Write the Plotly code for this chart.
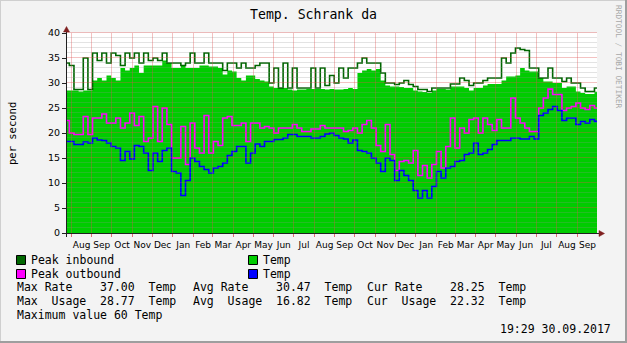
import math

import pandas as pd
import plotly.graph_objects as go

# ---- data: weekly samples, 25.07.2015 .. 30.09.2017 ----
START = "2015-07-25 12:00"
END = "2017-09-30 19:29"
N_WEEKS = 115

peak_in = [
    34.0, 33.5, 28.7, 28.7, 35.0, 28.7, 36.0, 34.5, 36.0, 34.0,
    36.0, 35.5, 33.5, 36.0, 35.0, 36.0, 34.0, 36.0, 34.5, 35.0,
    34.5, 36.0, 34.0, 34.0, 34.0, 33.5, 34.0, 36.0, 34.0, 34.0,
    36.0, 34.0, 34.0, 34.0, 32.5, 34.0, 34.0, 33.0, 34.0, 33.0,
    33.0, 33.5, 34.0, 34.0, 30.0, 33.0, 29.0, 34.0, 29.0, 33.0,
    29.0, 29.0, 29.0, 33.0, 29.0, 33.0, 29.5, 31.5, 30.0, 33.0,
    31.0, 33.0, 33.0, 34.0, 35.0, 34.0, 34.0, 34.0, 32.0, 30.0,
    30.0, 29.7, 30.0, 30.5, 29.7, 29.3, 28.7, 28.7, 28.3, 29.0,
    29.0, 29.0, 29.0, 29.8, 29.8, 31.0, 30.5, 29.5, 30.0, 30.0,
    30.5, 31.0, 31.0, 31.0, 35.0, 34.0, 36.0, 37.0, 36.7, 36.5,
    33.0, 33.0, 31.0, 31.0, 33.0, 31.0, 31.0, 30.3, 31.0, 30.0,
    30.0, 29.0, 28.3, 28.3, 29.0,
]

avg_in = [
    28.5, 28.5, 28.5, 28.3, 28.5, 28.5, 30.5, 31.0, 30.5, 31.5,
    31.0, 30.5, 33.0, 32.5, 33.0, 33.5, 32.0, 33.5, 33.5, 33.5,
    33.5, 34.5, 34.0, 33.0, 33.0, 33.5, 33.0, 33.0, 33.0, 33.5,
    33.5, 33.3, 33.3, 33.0, 31.7, 32.5, 32.3, 31.0, 30.5, 31.5,
    31.5, 30.8, 30.5, 30.3, 29.3, 29.0, 29.0, 29.0, 28.7, 28.5,
    28.7, 28.7, 28.8, 28.8, 28.8, 28.8, 28.7, 28.8, 28.7, 28.7,
    28.8, 29.0, 28.8, 32.0, 32.5, 32.8, 32.5, 32.8, 30.5, 29.5,
    29.3, 29.3, 29.2, 29.0, 29.0, 28.5, 28.3, 28.2, 28.0, 28.5,
    28.8, 28.8, 28.7, 29.3, 29.3, 29.3, 29.0, 28.5, 29.0, 29.0,
    29.5, 29.8, 29.8, 29.8, 30.5, 31.3, 31.3, 31.5, 33.0, 32.5,
    32.3, 32.3, 31.0, 30.3, 30.3, 30.0, 30.0, 29.0, 29.3, 29.3,
    28.3, 28.0, 27.8, 27.8, 28.25,
]

peak_out = [
    22.5, 20.0, 19.7, 19.7, 23.3, 19.7, 23.0, 23.0, 23.8, 22.0,
    22.0, 23.0, 21.0, 22.0, 24.0, 21.5, 23.3, 18.3, 19.0, 25.3,
    18.3, 25.0, 21.7, 15.0, 15.0, 21.3, 13.7, 22.0, 17.0, 16.0,
    23.5, 16.0, 18.3, 17.5, 23.0, 23.3, 21.5, 21.5, 22.0, 18.3,
    22.0, 22.0, 21.0, 21.3, 21.0, 20.0, 21.0, 21.0, 21.0, 21.7,
    21.0, 20.3, 20.3, 20.8, 20.8, 21.5, 21.0, 21.0, 21.0, 21.0,
    20.3, 20.5, 21.0, 20.0, 21.7, 22.5, 21.0, 17.5, 16.3, 21.7,
    15.7, 12.5, 14.3, 14.5, 14.0, 16.5, 11.5, 13.5, 11.0, 13.7,
    16.3, 13.0, 17.3, 23.0, 17.0, 21.0, 20.0, 22.7, 23.0, 20.0,
    23.0, 21.7, 20.5, 22.7, 21.0, 21.0, 27.0, 23.0, 22.0, 21.0,
    20.3, 20.3, 25.0, 27.0, 28.77, 27.7, 27.7, 24.5, 25.0, 25.3,
    26.0, 25.0, 24.7, 25.5, 25.0,
]

avg_out = [
    18.3, 18.3, 17.7, 17.7, 18.2, 18.0, 19.0, 18.6, 18.5, 18.0,
    17.3, 17.0, 14.5, 16.3, 14.8, 17.5, 17.3, 16.0, 12.5, 16.0,
    14.3, 16.5, 17.0, 12.3, 12.0, 7.5, 10.5, 15.0, 14.3, 13.3,
    12.7, 12.0, 13.0, 13.3, 14.0, 15.5, 16.3, 17.3, 17.3, 14.0,
    16.0, 17.8, 17.3, 18.3, 18.3, 18.7, 18.7, 19.0, 19.7, 19.7,
    19.3, 19.3, 19.3, 19.0, 19.0, 19.3, 19.8, 20.0, 19.5, 19.0,
    18.8, 18.0, 18.6, 16.5, 16.3, 16.0, 15.0, 14.0, 12.3, 15.0,
    14.5, 10.5, 12.5, 11.5, 10.5, 8.5, 7.0, 8.5, 7.0, 9.3,
    12.3, 11.0, 13.0, 13.3, 14.3, 14.5, 15.7, 16.0, 18.0, 15.7,
    16.0, 16.7, 17.7, 18.5, 18.5, 18.5, 19.0, 19.0, 18.8, 18.8,
    19.3, 18.8, 23.5, 24.0, 24.7, 25.3, 24.5, 22.5, 23.0, 23.0,
    21.7, 22.3, 22.0, 22.7, 22.32,
]

legend_rows = [
    ("Max Rate    37.00  Temp", "Avg Rate    30.47  Temp", "Cur Rate    28.25  Temp"),
    ("Max  Usage  28.77  Temp", "Avg  Usage  16.82  Temp", "Cur  Usage  22.32  Temp"),
]

# ---- colours / fonts ----
C_IN = "#00CC00"
C_OUT = "#0000FF"
C_PIN = "#006600"
C_POUT = "#FF00FF"
BACK = "#F3F3F3"
MONO = "DejaVu Sans Mono"
SANS = "DejaVu Sans"
GRID_MINOR = "rgba(143,143,143,0.25)"
GRID_MAJOR = "rgba(222,80,80,0.35)"

# ---- canvas geometry (pixels) ----
W, H = 627, 343
ML, MR, MT, MB = 67, 30, 33, 110
PW, PH = W - ML - MR, H - MT - MB
Y_MAX = 40


def fx(x):
    return (x - ML) / PW


def fy(y):
    return (H - MB - y) / PH


def half(p):
    # centre a 1px line on a pixel row/column
    return math.floor(p) + 0.5


t0, t1 = pd.Timestamp(START), pd.Timestamp(END)
span_s = (t1 - t0).total_seconds()
weeks = list(pd.date_range(START, periods=N_WEEKS, freq="7D")) + [t1]


def ext(v):
    return list(v) + [v[-1]]


fig = go.Figure()
fig.add_trace(go.Scatter(
    x=weeks, y=ext(avg_in), mode="lines", fill="tozeroy", fillcolor=C_IN,
    line=dict(color=C_IN, width=0, shape="hvh"), hoverinfo="skip"))
fig.add_trace(go.Scatter(
    x=weeks, y=ext(peak_in), mode="lines",
    line=dict(color=C_PIN, width=1.6, shape="hvh"), hoverinfo="skip"))
fig.add_trace(go.Scatter(
    x=weeks, y=ext(peak_out), mode="lines",
    line=dict(color=C_POUT, width=1.6, shape="hvh"), hoverinfo="skip"))
fig.add_trace(go.Scatter(
    x=weeks, y=ext(avg_out), mode="lines",
    line=dict(color=C_OUT, width=1.6, shape="hvh"), hoverinfo="skip"))

shapes = []
# faint grid drawn over the graph, rrdtool style
for v in range(1, Y_MAX + 1):
    yp = half(H - MB - PH * v / Y_MAX - 0.5)
    shapes.append(dict(
        type="line", xref="paper", yref="paper", x0=0, x1=1, y0=fy(yp), y1=fy(yp),
        layer="above",
        line=dict(color=GRID_MAJOR if v % 5 == 0 else GRID_MINOR, width=1)))
for m in pd.date_range("2015-08-01", "2017-09-01", freq="MS"):
    xp = half(ML + PW * (m - t0).total_seconds() / span_s)
    shapes.append(dict(
        type="line", xref="paper", yref="paper", x0=fx(xp), x1=fx(xp), y0=fy(H - MB), y1=1,
        layer="above", line=dict(color=GRID_MAJOR, width=1)))

# axes with arrows
AX = "#202020"
ARW = "#7F1F1F"
shapes.append(dict(type="line", xref="paper", yref="paper", x0=fx(66.5), x1=fx(66.5),
                   y0=fy(237), y1=fy(30), line=dict(color=AX, width=1), layer="above"))
shapes.append(dict(type="line", xref="paper", yref="paper", x0=fx(63), x1=fx(600),
                   y0=fy(233.5), y1=fy(233.5), line=dict(color=AX, width=1), layer="above"))
shapes.append(dict(type="path", xref="paper", yref="paper", layer="above",
                   path=f"M {fx(63.5)} {fy(32)} L {fx(69.5)} {fy(32)} L {fx(66.5)} {fy(26.5)} Z",
                   fillcolor=ARW, line=dict(color=ARW, width=0.5)))
shapes.append(dict(type="path", xref="paper", yref="paper", layer="above",
                   path=f"M {fx(599)} {fy(230.5)} L {fx(599)} {fy(236.5)} L {fx(604.5)} {fy(233.5)} Z",
                   fillcolor=ARW, line=dict(color=ARW, width=0.5)))

# image frame (light top/left, dark bottom/right)
shapes += [
    dict(type="line", xref="paper", yref="paper", x0=fx(0), x1=fx(W), y0=fy(0.5), y1=fy(0.5),
         line=dict(color="#CFCFCF", width=1)),
    dict(type="line", xref="paper", yref="paper", x0=fx(0.5), x1=fx(0.5), y0=fy(0), y1=fy(H),
         line=dict(color="#CFCFCF", width=1)),
    dict(type="line", xref="paper", yref="paper", x0=fx(0), x1=fx(W), y0=fy(H - 1), y1=fy(H - 1),
         line=dict(color="#9E9E9E", width=2)),
    dict(type="line", xref="paper", yref="paper", x0=fx(W - 1), x1=fx(W - 1), y0=fy(0), y1=fy(H),
         line=dict(color="#9E9E9E", width=2)),
]

# legend boxes
for (bx, by, col) in [(16, 255, C_PIN), (16, 269, C_POUT), (248, 255, C_IN), (248, 269, C_OUT)]:
    shapes.append(dict(type="rect", xref="paper", yref="paper",
                       x0=fx(bx + 0.5), x1=fx(bx + 9.5), y0=fy(by + 9.5), y1=fy(by + 0.5),
                       fillcolor=col, line=dict(color="#000000", width=1)))

ann = []


def text(s, x, y, size, anchor="left", color="#000000", family=MONO, angle=0):
    ann.append(dict(text=s, xref="paper", yref="paper", x=fx(x), y=fy(y),
                    xanchor=anchor, yanchor="middle", showarrow=False,
                    borderpad=0, borderwidth=0, textangle=angle,
                    font=dict(family=family, size=size, color=color)))


text("Temp. Schrank da", 313, 15, 13.2, anchor="center")
text("per second", 12, 134, 10.5, anchor="center", angle=-90)
text("RRDTOOL / TOBI OETIKER", 619, 57, 7.8, anchor="center", color="#A8A8A8", angle=90)

text("Peak inbound", 31, 259.5, 11.5)
text("Temp", 263, 259.5, 11.5)
text("Peak outbound", 31, 273.5, 11.5)
text("Temp", 263, 273.5, 11.5)
for i, row in enumerate(legend_rows):
    yy = 287 + 14 * i
    for xx, s in zip((17, 193, 367), row):
        text(s, xx, yy, 11.5)
text("Maximum value 60 Temp", 17, 315, 11.5)
text("19:29 30.09.2017", 611, 329, 11.5, anchor="right")

fig.update_layout(
    width=W, height=H, autosize=False,
    margin=dict(l=ML, r=MR, t=MT, b=MB, pad=0),
    paper_bgcolor=BACK, plot_bgcolor="#FFFFFF",
    showlegend=False,
    shapes=shapes, annotations=ann,
    xaxis=dict(
        type="date", range=[START, END], showgrid=False, zeroline=False,
        tick0="2015-08-01", dtick="M1", ticklabelmode="period", tickformat="%b",
        tickangle=0, ticks="outside", ticklen=3, tickcolor="#E07070", tickwidth=1,
        tickfont=dict(family=SANS, size=9, color="#000000"),
        showline=False, fixedrange=True),
    yaxis=dict(
        range=[0, Y_MAX], dtick=5, showgrid=False, zeroline=False,
        ticks="outside", ticklen=4, tickcolor=AX, tickwidth=1,
        tickfont=dict(family=SANS, size=9.5, color="#000000"),
        showline=False, fixedrange=True),
)

fig.write_html("out.html")
